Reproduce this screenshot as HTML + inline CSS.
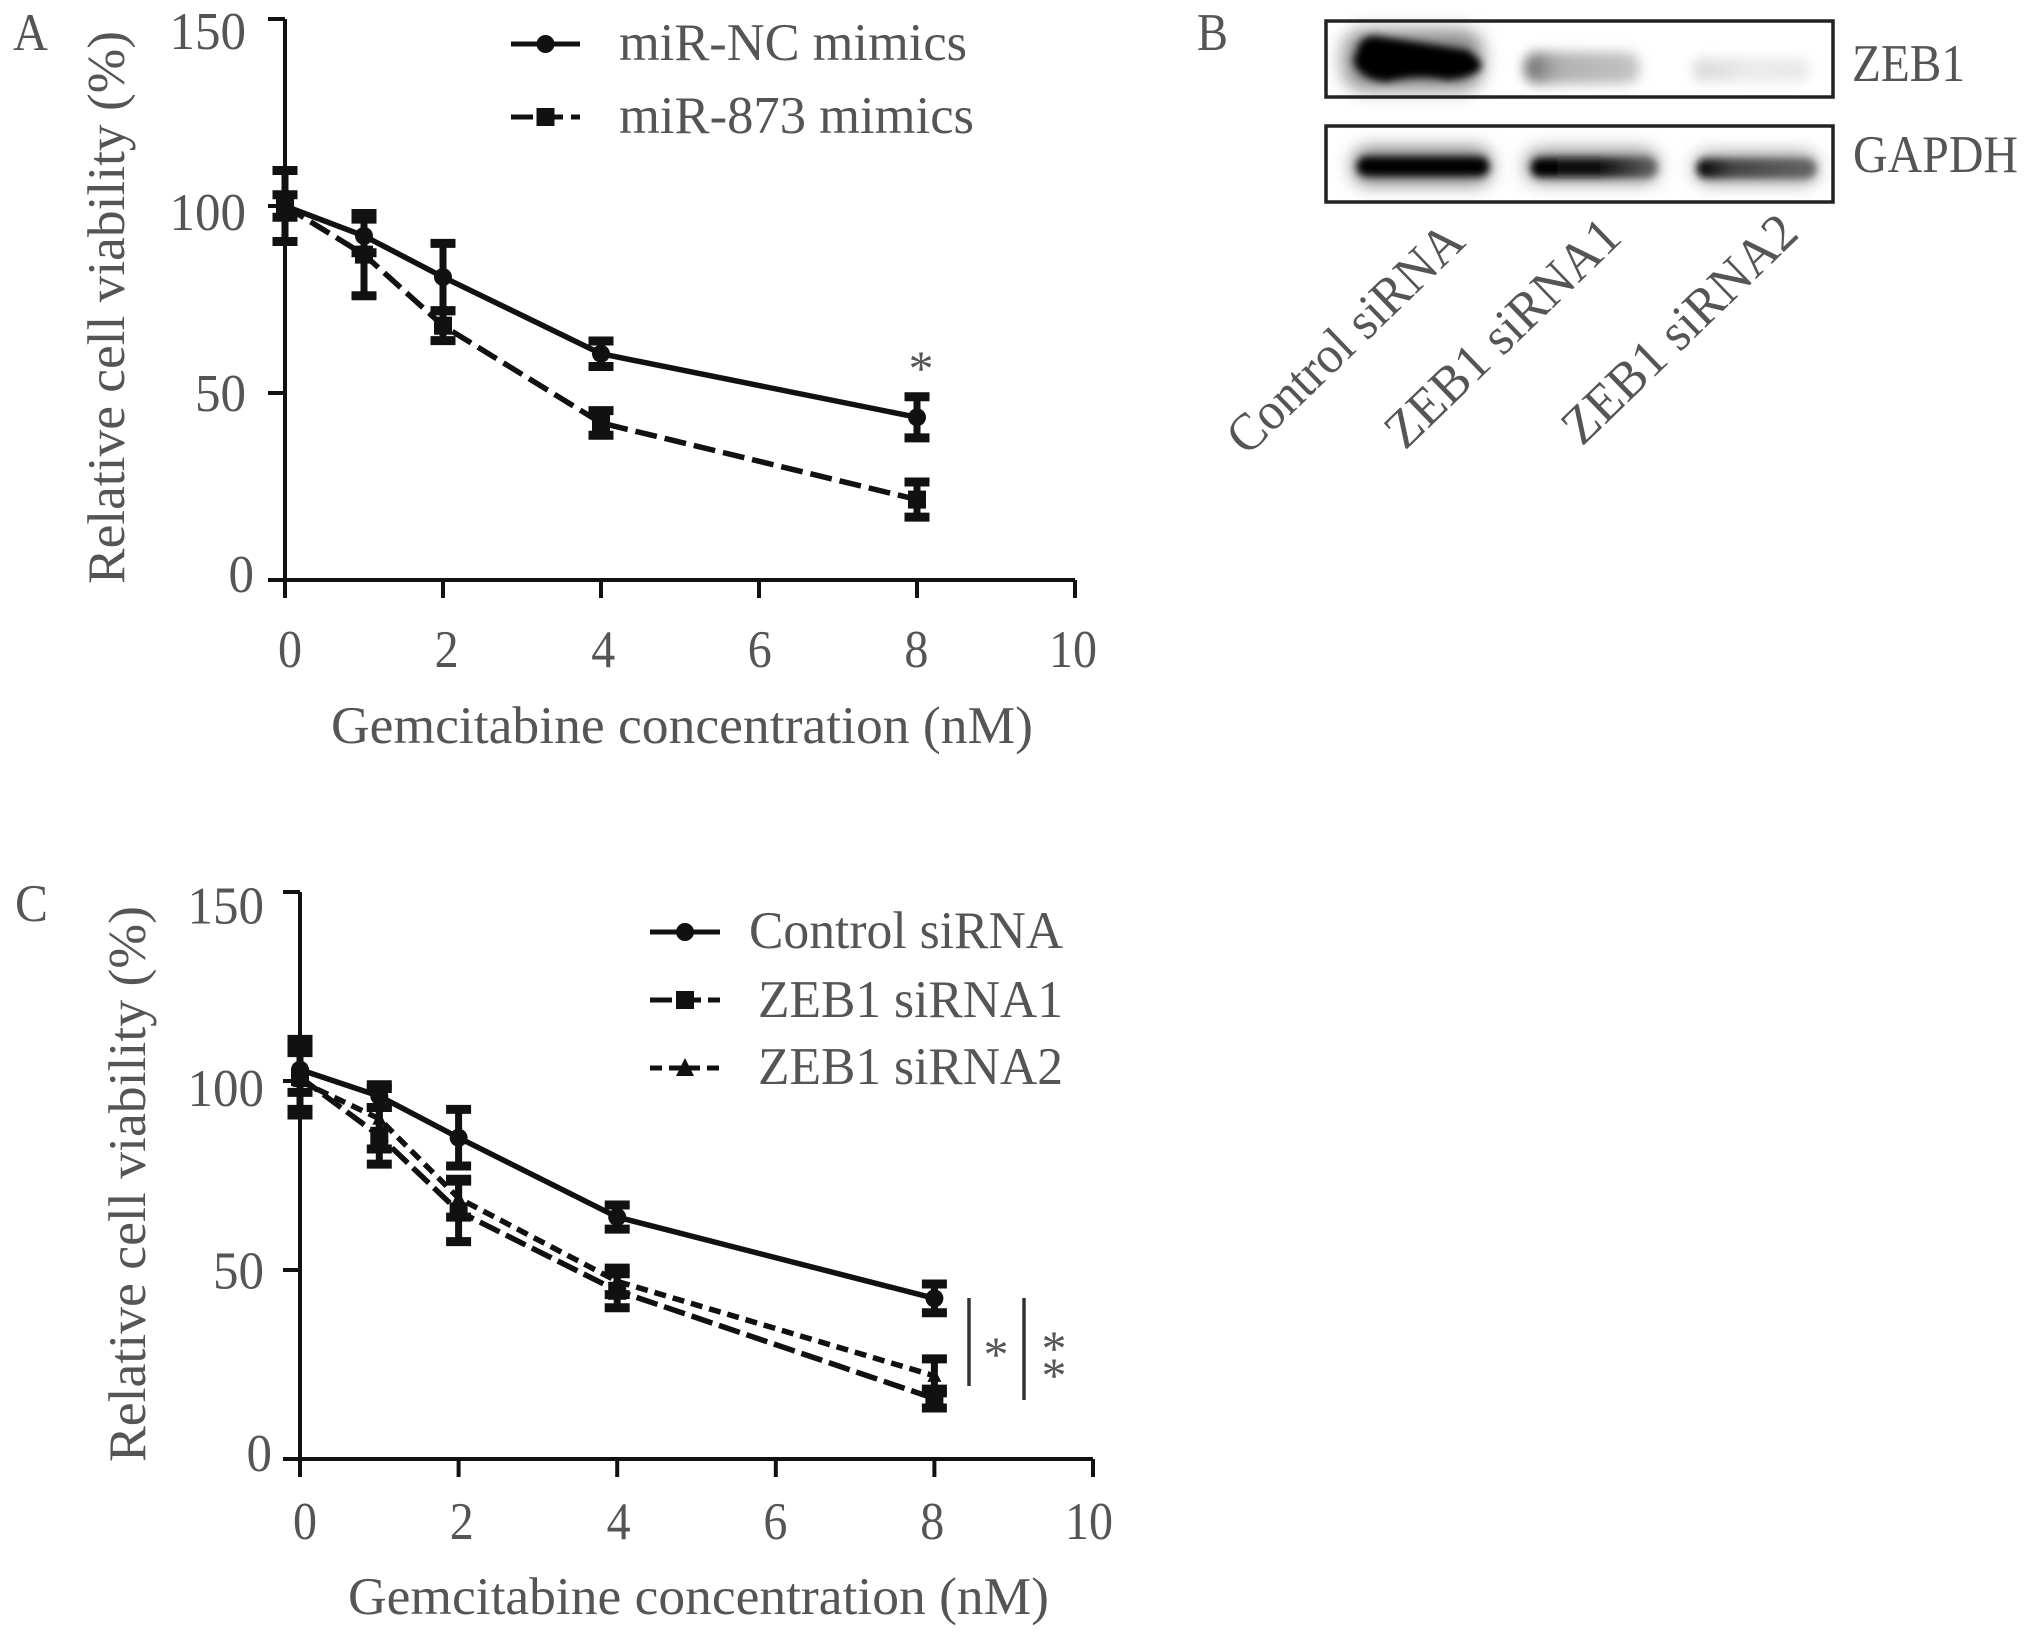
<!DOCTYPE html>
<html>
<head>
<meta charset="utf-8">
<title>Gemcitabine cell viability figure</title>
<style>
html,body{margin:0;padding:0;background:#fff;}
svg{display:block;}
text{font-family:"Liberation Serif",serif;fill:#555;font-size:53px;}
</style>
</head>
<body>
<svg id="figure" width="2031" height="1638" viewBox="0 0 2031 1638" xmlns="http://www.w3.org/2000/svg">
<defs>
<filter id="blur6" x="-30%" y="-60%" width="160%" height="220%"><feGaussianBlur stdDeviation="6"/></filter>
<filter id="blur4" x="-30%" y="-60%" width="160%" height="220%"><feGaussianBlur stdDeviation="4"/></filter>
<filter id="blur9" x="-30%" y="-60%" width="160%" height="220%"><feGaussianBlur stdDeviation="9"/></filter>
<linearGradient id="bandFadeMid"><stop offset="0" stop-color="#666"/><stop offset="0.3" stop-color="#b0b0b0"/><stop offset="1" stop-color="#c4c4c4"/></linearGradient>
<linearGradient id="bandFadeLight"><stop offset="0" stop-color="#d8d8d8"/><stop offset="0.5" stop-color="#ebebeb"/><stop offset="1" stop-color="#e8e8e8"/></linearGradient>
<linearGradient id="gapdhMid"><stop offset="0" stop-color="#000"/><stop offset="0.55" stop-color="#111"/><stop offset="1" stop-color="#666"/></linearGradient>
<linearGradient id="gapdhLight"><stop offset="0" stop-color="#000"/><stop offset="0.3" stop-color="#444"/><stop offset="1" stop-color="#666"/></linearGradient>
</defs>

<text x="13" y="50" textLength="35" lengthAdjust="spacingAndGlyphs">A</text>
<text x="1197" y="50" textLength="31" lengthAdjust="spacingAndGlyphs">B</text>
<text x="15" y="921" textLength="33" lengthAdjust="spacingAndGlyphs">C</text>

<text x="331" y="743" textLength="702" lengthAdjust="spacingAndGlyphs">Gemcitabine concentration (nM)</text>
<text transform="translate(124,584) rotate(-90)" textLength="553" lengthAdjust="spacingAndGlyphs">Relative cell viability (%)</text>
<text x="348" y="1614" textLength="701" lengthAdjust="spacingAndGlyphs">Gemcitabine concentration (nM)</text>
<text transform="translate(145,1462) rotate(-90)" textLength="556" lengthAdjust="spacingAndGlyphs">Relative cell viability (%)</text>

<g id="panelA"></g>
<g id="panelC"></g>

<text x="619" y="60" textLength="348" lengthAdjust="spacingAndGlyphs">miR-NC mimics</text>
<text x="619" y="133" textLength="355" lengthAdjust="spacingAndGlyphs">miR-873 mimics</text>
<text x="749" y="948" textLength="314" lengthAdjust="spacingAndGlyphs">Control siRNA</text>
<text x="758" y="1017" textLength="305" lengthAdjust="spacingAndGlyphs">ZEB1 siRNA1</text>
<text x="758" y="1084" textLength="305" lengthAdjust="spacingAndGlyphs">ZEB1 siRNA2</text>

<text x="921" y="385" text-anchor="middle" style="font-size:50px">*</text>
<line x1="969" y1="1298" x2="969" y2="1386" stroke="#333" stroke-width="3.5"/>
<line x1="1024" y1="1298" x2="1024" y2="1400" stroke="#333" stroke-width="3.5"/>
<text x="996" y="1371" text-anchor="middle" style="font-size:50px">*</text>
<text x="1054" y="1365" text-anchor="middle" style="font-size:50px">*</text>
<text x="1054" y="1392" text-anchor="middle" style="font-size:50px">*</text>

<g>
  <g>
    <rect x="1343" y="30" width="140" height="60" rx="22" fill="#888" filter="url(#blur9)"/>
    <path d="M1357 52 Q1359 36 1375 36 Q1417 42 1467 50 Q1483 60 1481 68 Q1473 78 1447 80 Q1417 74 1387 82 Q1359 80 1353 60 Z" fill="#000" filter="url(#blur4)"/>
    <rect x="1524" y="52" width="116" height="32" rx="14" fill="url(#bandFadeMid)" filter="url(#blur6)"/>
    <rect x="1692" y="58" width="118" height="24" rx="12" fill="url(#bandFadeLight)" filter="url(#blur6)"/>
  </g>
  <rect x="1333" y="21" width="510" height="76" fill="none" stroke="#222" stroke-width="3.5" transform="translate(-7,0)" style="width:507px"/>
  <g>
    <rect x="1353" y="148" width="138" height="36" rx="15" fill="#777" filter="url(#blur9)"/>
    <rect x="1357" y="157" width="132" height="19" rx="9" fill="#000" filter="url(#blur4)"/>
    <rect x="1526" y="150" width="132" height="32" rx="14" fill="#888" filter="url(#blur9)"/>
    <rect x="1531" y="158" width="126" height="19" rx="9" fill="url(#gapdhMid)" filter="url(#blur4)"/>
    <rect x="1695" y="153" width="122" height="30" rx="13" fill="#999" filter="url(#blur9)"/>
    <rect x="1697" y="159" width="119" height="19" rx="9" fill="url(#gapdhLight)" filter="url(#blur4)"/>
  </g>
  <rect x="1333" y="126" width="510" height="76" fill="none" stroke="#222" stroke-width="3.5" transform="translate(-7,0)" style="width:507px"/>
</g>
<text x="1852" y="81" textLength="113" lengthAdjust="spacingAndGlyphs">ZEB1</text>
<text x="1853" y="172" textLength="165" lengthAdjust="spacingAndGlyphs">GAPDH</text>
<text transform="translate(1247,457) rotate(-44)" textLength="306" lengthAdjust="spacingAndGlyphs">Control siRNA</text>
<text transform="translate(1405,451) rotate(-44)" textLength="304" lengthAdjust="spacingAndGlyphs">ZEB1 siRNA1</text>
<text transform="translate(1582,447) rotate(-44)" textLength="304" lengthAdjust="spacingAndGlyphs">ZEB1 siRNA2</text>
</svg>

<script>
var xValues = [0, 1, 2, 4, 8];
var xTicks = [0, 2, 4, 6, 8, 10];
var yTicks = [0, 50, 100, 150];

var mirNcValues = [100, 92, 81, 60.5, 43.5];
var mirNcErrors = [9.5, 4.5, 9, 3.4, 5.5];
var mir873Values = [100, 87, 68, 42, 21.5];
var mir873Errors = [3, 11, 4, 3.3, 4.7];

var controlValues = [103, 96, 85, 64, 42.5];
var controlErrors = [6, 3, 7.5, 3.2, 3.8];
var sirna1Values = [101, 85.5, 65.5, 44.5, 16];
var sirna1Errors = [10, 7.5, 8, 4.5, 2.5];
var sirna2Values = [100, 90, 69, 47, 22];
var sirna2Errors = [7.5, 8, 5, 3.5, 4.5];

var NS = 'http://www.w3.org/2000/svg';

function makeEl(parent, tag, attrs) {
  var el = document.createElementNS(NS, tag);
  for (var k in attrs) { el.setAttribute(k, attrs[k]); }
  parent.appendChild(el);
  return el;
}

function drawAxes(g, p) {
  var axis = makeEl(g, 'path', {d: 'M' + p.x(0) + ' ' + p.y(150) + ' V' + (p.y(0) + 18) + ' M' + (p.x(0) - 17) + ' ' + p.y(0) + ' H' + p.x(10), fill: 'none', stroke: '#111', 'stroke-width': 4});
  
  
  xTicks.forEach(function (v) {
    var tick = makeEl(g, 'line', {x1: p.x(v), x2: p.x(v), y1: p.y(0), y2: p.y(0) + 18, stroke: '#111', 'stroke-width': 4});
    
    
    var label = makeEl(g, 'text', {x: p.labelX(v), y: p.xLabelBase, 'text-anchor': 'middle', textLength: String(v).length * 24, lengthAdjust: 'spacingAndGlyphs'});
    label.textContent = String(v);
    
    
  });
  yTicks.forEach(function (v) {
    var tick = makeEl(g, 'line', {x1: p.x(0) - 17, x2: p.x(0), y1: p.y(v), y2: p.y(v), stroke: '#111', 'stroke-width': 4});
    
    
    var label = makeEl(g, 'text', {x: p.yLabelEnd + (v === 0 ? 8 : 0), y: p.labelY(v), 'text-anchor': 'end', textLength: String(v).length * 25.5, lengthAdjust: 'spacingAndGlyphs'});
    label.textContent = String(v);
    
    
  });
}

function drawMarker(g, shape, cx, cy, r) {
  var m;
  if (shape === 'circle') {
    m = makeEl(g, 'circle', {cx: cx, cy: cy, r: r, fill: '#111'});
  } else if (shape === 'square') {
    m = makeEl(g, 'rect', {x: cx - r, y: cy - r, width: 2 * r, height: 2 * r, fill: '#111'});
  } else {
    m = makeEl(g, 'path', {d: 'M' + cx + ' ' + (cy - r - 1) + ' L' + (cx + r) + ' ' + (cy + r - 1) + ' H' + (cx - r) + ' Z', fill: '#111'});
  }
  
  
}

function drawSeries(g, p, values, errors, shape, dash) {
  var pts = values.map(function (v, i) { return p.x(xValues[i]) + ',' + p.y(v); }).join(' ');
  var line = makeEl(g, 'polyline', {points: pts, fill: 'none', stroke: '#111', 'stroke-width': 5.5, 'stroke-linejoin': 'round'});
  if (dash) { line.setAttribute('stroke-dasharray', dash); }
  
  
  values.forEach(function (v, i) {
    var cx = p.x(xValues[i]);
    var top = p.y(v + errors[i]);
    var bot = p.y(v - errors[i]);
    var stem = makeEl(g, 'line', {x1: cx, x2: cx, y1: top, y2: bot, stroke: '#111', 'stroke-width': 7});
    
    
    var caps = makeEl(g, 'path', {d: 'M' + (cx - 12.5) + ' ' + top + ' H' + (cx + 12.5) + ' M' + (cx - 12.5) + ' ' + bot + ' H' + (cx + 12.5), fill: 'none', stroke: '#111', 'stroke-width': 9});
    
    
    drawMarker(g, shape, cx, p.y(v), shape === 'triangle' ? 7 : 9);
  });
}

function drawLegendKey(g, x1, x2, y, shape, dash) {
  var key = makeEl(g, 'line', {x1: x1, x2: x2, y1: y, y2: y, stroke: '#111', 'stroke-width': 5});
  if (dash) { key.setAttribute('stroke-dasharray', dash); }
  
  
  drawMarker(g, shape, (x1 + x2) / 2, y, 9);
}

var panelA = {
  x: function (v) { return 285 + 79 * v; },
  y: function (v) { return 580 - 3.74 * v; },
  labelX: function (v) { return 290 + 78.3 * v; },
  labelY: function (v) { return 592 - 3.62 * v; },
  xLabelBase: 667,
  yLabelEnd: 246
};
var panelC = {
  x: function (v) { return 300 + 79.3 * v; },
  y: function (v) { return 1459 - 3.78 * v; },
  labelX: function (v) { return 305 + 78.4 * v; },
  labelY: function (v) { return 1471 - 3.65 * v; },
  xLabelBase: 1539,
  yLabelEnd: 264
};

var gA = document.getElementById('panelA');
var gC = document.getElementById('panelC');

drawAxes(gA, panelA);
drawSeries(gA, panelA, mirNcValues, mirNcErrors, 'circle', null);
drawSeries(gA, panelA, mir873Values, mir873Errors, 'square', '22 8');
drawLegendKey(gA, 511, 580, 44, 'circle', null);
drawLegendKey(gA, 511, 580, 117, 'square', '22 8');

drawAxes(gC, panelC);
drawSeries(gC, panelC, controlValues, controlErrors, 'circle', null);
drawSeries(gC, panelC, sirna1Values, sirna1Errors, 'square', '22 7');
drawSeries(gC, panelC, sirna2Values, sirna2Errors, 'triangle', '12 7');
drawLegendKey(gC, 650, 720, 932, 'circle', null);
drawLegendKey(gC, 650, 720, 1000, 'square', '22 7');
drawLegendKey(gC, 650, 720, 1068, 'triangle', '12 7');
</script>
</body>
</html>
